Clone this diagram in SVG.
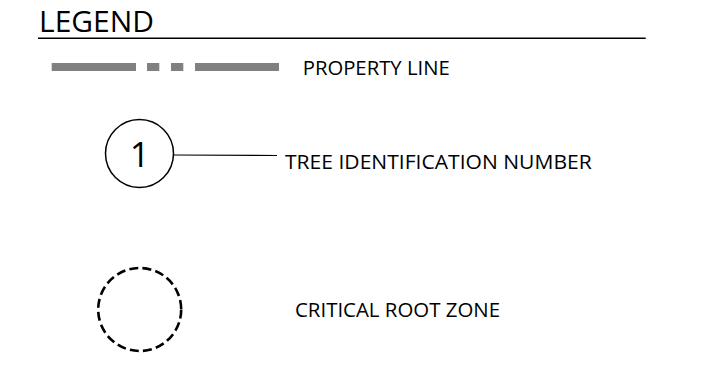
<svg xmlns="http://www.w3.org/2000/svg" width="728" height="371" viewBox="0 0 728 371">
<style>
text{font-family:"Open Sans","Noto Sans","Liberation Sans",sans-serif;fill:#000}
.lbl{font-size:20px}
.pl{fill:#808080}
</style>
<rect width="728" height="371" fill="#fff"/>
<g id="title">
<text x="39" y="31.7" font-size="30" textLength="115" lengthAdjust="spacingAndGlyphs">LEGEND</text>
<line x1="38" y1="38.3" x2="645.7" y2="38.3" stroke="#000" stroke-width="1.6"/>
</g>
<g id="property-line">
<rect class="pl" x="51.7" y="63" width="84.3" height="8"/>
<rect class="pl" x="147" y="63" width="12.3" height="8"/>
<rect class="pl" x="171" y="63" width="12.3" height="8"/>
<rect class="pl" x="195" y="63" width="84" height="8"/>
<text class="lbl" x="302.7" y="75" textLength="147" lengthAdjust="spacingAndGlyphs">PROPERTY LINE</text>
</g>
<g id="tree-id">
<circle cx="139.5" cy="153.5" r="34" fill="none" stroke="#000" stroke-width="1.5"/>
<text x="139.7" y="166.7" font-size="35" text-anchor="middle">1</text>
<text class="lbl" x="285" y="169.3" textLength="306.7" lengthAdjust="spacingAndGlyphs">TREE IDENTIFICATION NUMBER</text>
</g>
<g id="connectors">
<line x1="173.5" y1="155" x2="277" y2="155.5" stroke="#000" stroke-width="1.2"/>
</g>
<g id="critical-root-zone">
<circle cx="139.7" cy="309.5" r="41.5" fill="none" stroke="#000" stroke-width="2.6" stroke-dasharray="9 4.2"/>
<text class="lbl" x="295" y="316.7" textLength="205" lengthAdjust="spacingAndGlyphs">CRITICAL ROOT ZONE</text>
</g>
</svg>
